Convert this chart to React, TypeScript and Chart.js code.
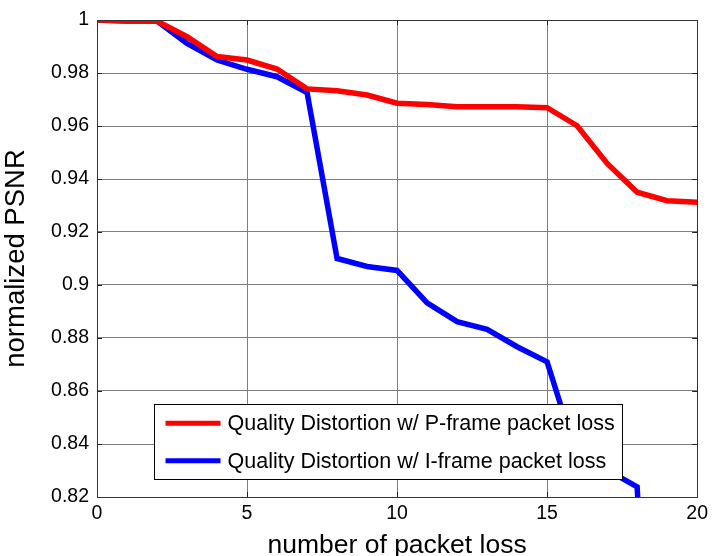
import React, { useEffect, useRef } from "react";
import { Chart, registerables } from "chart.js";

Chart.register(...registerables);

const xValues = [0, 1, 2, 3, 4, 5, 6, 7, 8, 9, 10, 11, 12, 13, 14, 15, 16, 17, 18, 19, 20];
const pFrameLoss = [1, 0.9996, 0.9996, 0.9937, 0.9862, 0.9849, 0.9815, 0.974, 0.9733, 0.9717, 0.9686, 0.9681, 0.9673, 0.9673, 0.9673, 0.9669, 0.9601, 0.9459, 0.935, 0.9318, 0.9312];
const iFrameLoss = [1, 0.9996, 0.9996, 0.9912, 0.9849, 0.9814, 0.9786, 0.9726, 0.910, 0.907, 0.9055, 0.8933, 0.8862, 0.8833, 0.8767, 0.871, 0.835, 0.8302, 0.8238, 0.62, 0.60];
const yTicks = [0.82, 0.84, 0.86, 0.88, 0.9, 0.92, 0.94, 0.96, 0.98, 1];
const xTicks = [0, 5, 10, 15, 20];
const seriesNames = [
  "Quality Distortion w/ P-frame packet loss",
  "Quality Distortion w/ I-frame packet loss",
];
const seriesColors = ["#ff0000", "#0000ff"];

const FONT = "'Liberation Sans', Arial, sans-serif";

const framePlugin = {
  id: "matlabFrame",
  afterDraw(chart: any) {
    const { ctx, chartArea: a, scales } = chart;
    ctx.save();
    ctx.strokeStyle = "#222";
    ctx.lineWidth = 1;
    ctx.beginPath();
    for (const v of yTicks) {
      const y = Math.round(scales.y.getPixelForValue(v)) + 0.5;
      ctx.moveTo(a.left, y);
      ctx.lineTo(a.left + 5, y);
      ctx.moveTo(a.right, y);
      ctx.lineTo(a.right - 5, y);
    }
    for (const v of xTicks) {
      const x = Math.round(scales.x.getPixelForValue(v)) + 0.5;
      ctx.moveTo(x, a.bottom);
      ctx.lineTo(x, a.bottom - 5);
      ctx.moveTo(x, a.top);
      ctx.lineTo(x, a.top + 5);
    }
    ctx.stroke();
    ctx.strokeStyle = "#333";
    ctx.strokeRect(Math.round(a.left) + 0.5, Math.round(a.top) + 0.5, Math.round(a.width), Math.round(a.height));

    const w = a.width;
    const h = a.height;
    const bx = Math.round(a.left + w * 0.095) + 0.5;
    const by = Math.round(a.top + h * 0.805) + 0.5;
    const bw = Math.round(w * 0.78);
    const bh = Math.round(h * 0.157);
    ctx.fillStyle = "#fff";
    ctx.fillRect(bx, by, bw, bh);
    ctx.strokeStyle = "#000";
    ctx.lineWidth = 1;
    ctx.strokeRect(bx, by, bw, bh);
    ctx.font = `21.5px ${FONT}`;
    ctx.textBaseline = "middle";
    ctx.fillStyle = "#000";
    seriesNames.forEach((name, i) => {
      const ly = by + bh * (0.25 + 0.5 * i);
      ctx.strokeStyle = seriesColors[i];
      ctx.lineWidth = 5;
      ctx.beginPath();
      ctx.moveTo(bx + 11, ly);
      ctx.lineTo(bx + 66, ly);
      ctx.stroke();
      ctx.fillText(name, bx + 73, ly + 1);
    });
    ctx.restore();
  },
};

export default function App() {
  const ref = useRef<HTMLCanvasElement | null>(null);
  useEffect(() => {
    if (!ref.current) return;
    const chart = new Chart(ref.current, {
      type: "line",
      data: {
        datasets: [pFrameLoss, iFrameLoss].map((vals, i) => ({
          label: seriesNames[i],
          data: xValues.map((x, j) => ({ x, y: vals[j] })),
          borderColor: seriesColors[i],
          backgroundColor: seriesColors[i],
          borderWidth: 5.5,
          pointRadius: 0,
          tension: 0,
          fill: false,
        })),
      },
      options: {
        animation: false,
        responsive: false,
        maintainAspectRatio: false,
        layout: { padding: { top: 20, right: 15, left: 0, bottom: 0 } },
        plugins: { legend: { display: false }, tooltip: { enabled: false } },
        scales: {
          x: {
            type: "linear",
            min: 0,
            max: 20,
            afterBuildTicks: (s: any) => {
              s.ticks = xTicks.map((v) => ({ value: v }));
            },
            afterFit: (s: any) => {
              s.height = 59;
            },
            ticks: { color: "#000", font: { family: FONT, size: 19.5 }, padding: 5, maxRotation: 0 },
            grid: { color: "#7d7d7d", lineWidth: 1, drawTicks: false },
            border: { color: "#222", width: 1 },
            title: {
              display: true,
              text: "number of packet loss",
              color: "#000",
              font: { family: FONT, size: 26.5 },
              padding: { top: 0, bottom: -6 },
            },
          },
          y: {
            min: 0.82,
            max: 1,
            afterBuildTicks: (s: any) => {
              s.ticks = yTicks.map((v) => ({ value: v }));
            },
            afterFit: (s: any) => {
              s.width = 97;
            },
            ticks: {
              color: "#000",
              font: { family: FONT, size: 19.5 },
              padding: 8,
              callback: (v: any) => String(Number(v)),
            },
            grid: { color: "#7d7d7d", lineWidth: 1, drawTicks: false },
            border: { color: "#222", width: 1 },
            title: {
              display: true,
              text: "normalized PSNR",
              color: "#000",
              font: { family: FONT, size: 27.5 },
              padding: { top: 0, bottom: 0 },
            },
          },
        },
      },
      plugins: [framePlugin],
    });
    return () => chart.destroy();
  }, []);
  return (
    <div style={{ position: "absolute", left: 0, top: 0, width: 713, height: 556, background: "#fff" }}>
      <canvas ref={ref} width={713} height={556} style={{ display: "block" }} />
    </div>
  );
}
